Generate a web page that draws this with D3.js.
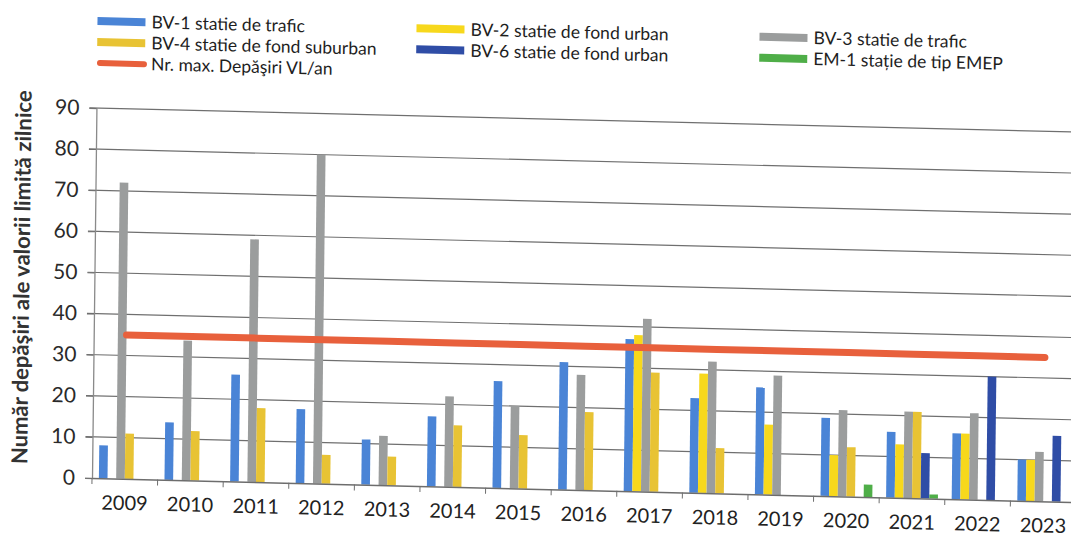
<!DOCTYPE html>
<html>
<head>
<meta charset="utf-8">
<script src="https://cdn.jsdelivr.net/npm/d3@7"></script>
<style>
  body { margin: 0; background: #fff; }
  text { font-family: Lato, "Open Sans", sans-serif; }
</style>
</head>
<body>
<div id="chart"></div>
<script>
// years on the x axis
const years = ["2009", "2010", "2011", "2012", "2013", "2014", "2015", "2016",
               "2017", "2018", "2019", "2020", "2021", "2022", "2023"];

// number of exceedances per station (null = no bar)
const bv1 = [8, 14, 26, 18, 11, 17, 26, 31, 37, 23, 26, 19, 16, 16, 10];
const bv2 = [null, null, null, null, null, null, null, null, 38, 29, 17, 10, 13, 16, 10];
const bv3 = [72, 34, 59, 80, 12, 22, 20, 28, 42, 32, 29, 21, 21, 21, 12];
const bv4 = [11, 12, 18, 7, 7, 15, 13, 19, 29, 11, null, 12, 21, null, null];
const bv6 = [null, null, null, null, null, null, null, null, null, null, null, null, 11, 30, 16];
const em1 = [null, null, null, null, null, null, null, null, null, null, null, 3, 1, null, null];

// max allowed exceedances per year
const maxVL = [35, 35, 35, 35, 35, 35, 35, 35, 35, 35, 35, 35, 35, 35, 35];

const yTicks = [0, 10, 20, 30, 40, 50, 60, 70, 80, 90];

const seriesNames = ["BV-1 statie de trafic", "BV-2 statie de fond urban", "BV-3 statie de trafic",
                     "BV-4 statie de fond suburban", "BV-6 statie de fond urban", "EM-1 stație de tip EMEP"];
const seriesValues = [bv1, bv2, bv3, bv4, bv6, em1];
const lineName = "Nr. max. Depăşiri VL/an";

const colors = ["#4a84d6", "#f7d81c", "#9b9d9d", "#e8c334", "#2f4da6", "#4fae48"];
const lineColor = "#e8603c";

// build the table the bars need
const barData = [];
seriesValues.forEach(function(vals, s) {
  vals.forEach(function(v, i) {
    if (v !== null) barData.push({year: years[i], key: seriesNames[s], s: s, value: v});
  });
});

const W = 1071, H = 538;
const plotLeft = 92, plotBottom = 478, plotTop = 108, plotW = 984;

const svg = d3.select("#chart")
    .append("svg")
    .attr("width", W)
    .attr("height", H);

// the scanned chart is slightly skewed, so everything goes into a sheared group
const sx = 0.0245, sy = -0.012;
const g = svg.append("g")
    .attr("transform", "matrix(1," + sx + "," + sy + ",1," + (-sy * plotBottom) + "," + (-sx * plotLeft) + ")");

const x = d3.scaleBand()
    .domain(years)
    .range([plotLeft, plotLeft + plotW])
    .padding(0);

const groupW = x.bandwidth() * 0.79;
const x1 = d3.scaleBand()
    .domain(d3.range(seriesNames.length))
    .range([0, groupW]);

const y = d3.scaleLinear()
    .domain([0, 90])
    .range([plotBottom, plotTop]);

// gridlines
g.append("g")
    .selectAll("line")
    .data(yTicks.slice(1))
    .enter()
    .append("line")
    .attr("x1", plotLeft - 7)
    .attr("x2", plotLeft + plotW)
    .attr("y1", function(d) { return y(d); })
    .attr("y2", function(d) { return y(d); })
    .attr("stroke", "#6f6f6f")
    .attr("stroke-width", 1.2);

// Y axis
const yAxis = g.append("g")
    .attr("transform", "translate(" + plotLeft + ",0)")
    .call(d3.axisLeft(y).tickValues(yTicks).tickSize(7).tickPadding(10));
yAxis.select(".domain").attr("stroke", "#8a8a8a").attr("stroke-width", 1.3);
yAxis.selectAll(".tick line").attr("stroke", "#6f6f6f");
yAxis.selectAll(".tick text")
    .attr("font-size", 21)
    .attr("fill", "#2a2a2a")
    .attr("font-family", "Lato, sans-serif");

// bars
g.append("g")
    .selectAll("rect")
    .data(barData)
    .enter()
    .append("rect")
    .attr("x", function(d) { return x(d.year) + (x.bandwidth() - groupW) / 2 + x1(d.s); })
    .attr("width", x1.bandwidth())
    .attr("y", function(d) { return y(d.value); })
    .attr("height", function(d) { return y(0) - y(d.value); })
    .attr("fill", function(d) { return colors[d.s]; });

// X axis
const xAxis = g.append("g")
    .attr("transform", "translate(0," + plotBottom + ")")
    .call(d3.axisBottom(x).tickSize(0).tickPadding(17));
xAxis.select(".domain").attr("stroke", "#6d6d6d").attr("stroke-width", 1.5);
xAxis.selectAll(".tick text")
    .attr("font-size", 20)
    .attr("fill", "#222")
    .attr("font-family", "Lato, sans-serif");
// tick marks between categories
xAxis.selectAll(".sep")
    .data(years)
    .enter()
    .append("line")
    .attr("class", "sep")
    .attr("x1", function(d) { return x(d); })
    .attr("x2", function(d) { return x(d); })
    .attr("y1", 0)
    .attr("y2", 6)
    .attr("stroke", "#6f6f6f");

// max line
const line = d3.line()
    .x(function(d, i) { return x(years[i]) + x.bandwidth() / 2; })
    .y(function(d) { return y(d); });
g.append("path")
    .datum(maxVL)
    .attr("d", line)
    .attr("fill", "none")
    .attr("stroke", lineColor)
    .attr("stroke-width", 7)
    .attr("stroke-linecap", "round");

// Y axis label
g.append("text")
    .attr("text-anchor", "middle")
    .attr("transform", "translate(27,279) rotate(-90)")
    .attr("font-size", 22)
    .attr("font-weight", "bold")
    .attr("fill", "#333")
    .text("Număr depăşiri ale valorii limită zilnice");

// legend
const legendItems = [
  {name: seriesNames[0], color: colors[0], x: 92, y: 21, line: false},
  {name: seriesNames[3], color: colors[3], x: 92, y: 42, line: false},
  {name: lineName, color: lineColor, x: 92, y: 63, line: true},
  {name: seriesNames[1], color: colors[1], x: 411, y: 20.5, line: false},
  {name: seriesNames[4], color: colors[4], x: 411, y: 41.5, line: false},
  {name: seriesNames[2], color: colors[2], x: 754, y: 20.5, line: false},
  {name: seriesNames[5], color: colors[5], x: 754, y: 41.5, line: false}
];
const leg = g.append("g")
    .selectAll("g")
    .data(legendItems)
    .enter()
    .append("g")
    .attr("transform", function(d) { return "translate(" + d.x + "," + d.y + ")"; });
leg.filter(function(d) { return !d.line; })
    .append("rect")
    .attr("x", 0)
    .attr("y", -4)
    .attr("width", 48)
    .attr("height", 8)
    .attr("fill", function(d) { return d.color; });
leg.filter(function(d) { return d.line; })
    .append("line")
    .attr("x1", 3)
    .attr("x2", 47)
    .attr("y1", 0)
    .attr("y2", 0)
    .attr("stroke", function(d) { return d.color; })
    .attr("stroke-width", 6)
    .attr("stroke-linecap", "round");
leg.append("text")
    .attr("x", 54)
    .attr("y", 6)
    .attr("font-size", 17.5)
    .attr("fill", "#1e1e1e")
    .text(function(d) { return d.name; });
</script>
</body>
</html>
